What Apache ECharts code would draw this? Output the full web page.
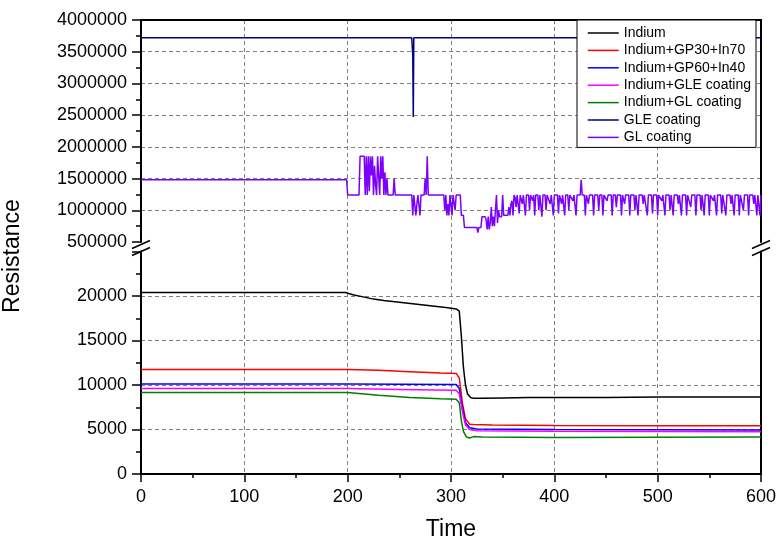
<!DOCTYPE html>
<html>
<head>
<meta charset="utf-8">
<script src="https://cdn.jsdelivr.net/npm/echarts@6/dist/echarts.min.js"></script>
<style>html,body{margin:0;padding:0;background:#fff}#c{width:784px;height:559px}</style>
</head>
<body>
<div id="c"></div>
<script>
var seriesNames = ['Indium','Indium+GP30+In70','Indium+GP60+In40','Indium+GLE coating','Indium+GL coating','GLE coating','GL coating'];
var seriesColors = ['#000000','#ff0000','#0000ff','#ff00ff','#008000','#000080','#7b00ff'];
var xTicks = [0,100,200,300,400,500,600];

var indium = [[0,20400],[50,20400],[100,20400],[150,20400],[198,20400],[205,20150],[215,19900],[225,19650],[235,19500],[250,19300],[265,19100],[280,18900],[295,18700],[305,18550],[308,18300],[310,15500],[312,12000],[314,10000],[316,9000],[319,8600],[322,8500],[330,8500],[350,8550],[375,8600],[400,8600],[450,8600],[500,8650],[550,8650],[600,8650]];
var gp30 = [[0,11750],[200,11750],[230,11650],[260,11500],[290,11350],[305,11300],[308,10800],[311,8000],[314,6200],[318,5600],[322,5550],[340,5500],[400,5450],[500,5420],[600,5420]];
var gp60 = [[0,10100],[200,10100],[305,10050],[308,9600],[311,7500],[314,5800],[318,5200],[325,5050],[400,5000],[600,4950]];
var inGle = [[0,9600],[200,9600],[250,9500],[305,9400],[308,9000],[311,7000],[314,5500],[318,5000],[325,4850],[400,4800],[600,4750]];
var inGl = [[0,9150],[200,9150],[230,8850],[260,8600],[290,8450],[305,8400],[308,8000],[310,6000],[312,4800],[315,4150],[318,4050],[322,4200],[330,4150],[400,4100],[600,4150]];
var gle = [[0,3720000],[262,3720000],[263,3450000],[263.5,2470000],[264,3720000],[600,3720000]];
var gl = [[0,1480000],[199,1480000],[200,1240000],[211,1240000],[212,1850000],[216,1850000],[217,1240000],[218,1850000],[219,1240000],[220,1850000],[221,1300000],[222,1850000],[223,1550000],[224,1850000],[225,1240000],[226,1700000],[227,1400000],[228,1240000],[229,1850000],[230,1850000],[231,1240000],[232,1850000],[233,1500000],[234,1850000],[235,1240000],[236,1600000],[237,1240000],[238,1500000],[239,1240000],[244,1240000],[245,1500000],[246,1240000],[262,1240000],[263,920000],[264,1240000],[265,1240000],[266,920000],[267,1100000],[268,1240000],[270,920000],[271,1240000],[274,1240000],[275,1500000],[276,1240000],[277,1850000],[278,1240000],[293,1240000],[294,1000000],[295,1240000],[296,920000],[297,1100000],[298,920000],[299,1240000],[301,920000],[302,1240000],[303,1240000],[304,1000000],[305,1240000],[309,1240000],[310,920000],[312,920000],[313,730000],[315,730000],[316,760000],[318,730000],[325,730000],[326,650000],[327,730000],[329,730000],[330,900000],[333,900000],[334,850000],[335,700000],[336,900000],[337,700000],[338,800000],[339,1050000],[340,750000],[341,900000],[342,750000],[343,1000000],[344,1240000],[345,800000],[346,1000000],[347,900000],[349,900000],[350,1240000],[351,920000],[355,920000],[356,1050000],[357,920000],[358,1100000],[359,1150000],[360,920000],[361,1240000],[362,1200000],[363,1050000],[364,1240000],[365,1240000],[366,950000],[367,1240000],[368,1240000],[369,1100000],[370,1240000],[372,920000],[373,1240000],[375,1240000],[376,1000000],[377,1240000],[379,1150000],[380,1240000],[381,920000],[382,1240000],[384,1240000],[385,1000000],[386,1240000],[388,900000],[389,1240000],[391,1240000],[392,1000000],[393,1240000],[396,1100000],[397,1240000],[399,920000],[400,1240000],[403,1240000],[404,950000],[405,1240000],[407,1100000],[408,1240000],[410,920000],[411,1240000],[413,1240000],[414,1000000],[415,1240000],[418,1150000],[419,1240000],[421,920000],[422,1240000],[425,1240000],[426,1480000],[427,1240000],[429,1240000],[430,920000],[431,1240000],[433,1100000],[434,1240000],[437,1240000],[438,920000],[439,1240000],[442,1240000],[443,1000000],[444,1240000],[446,1240000],[447,920000],[448,1240000],[451,1150000],[452,1240000],[455,1240000],[456,920000],[457,1240000],[459,1240000],[460,1050000],[461,1240000],[464,1240000],[465,920000],[466,1240000],[468,1100000],[469,1240000],[472,1240000],[473,920000],[474,1240000],[477,1240000],[478,1000000],[479,1240000],[481,920000],[482,1240000],[485,1240000],[486,1100000],[487,1240000],[490,920000],[491,1240000],[494,1240000],[495,950000],[496,1240000],[499,1240000],[500,920000],[501,1240000],[504,1150000],[505,1240000],[507,920000],[508,1240000],[511,1240000],[512,1000000],[513,1240000],[515,920000],[516,1240000],[519,1240000],[520,1100000],[521,1240000],[523,920000],[524,1240000],[527,1240000],[528,920000],[529,1240000],[532,1050000],[533,1240000],[536,1240000],[537,920000],[538,1240000],[541,1240000],[542,1000000],[543,1240000],[545,920000],[546,1240000],[549,1240000],[550,920000],[551,1240000],[554,1150000],[555,1240000],[557,920000],[558,1240000],[561,1240000],[562,950000],[563,1240000],[566,920000],[567,1240000],[570,1240000],[571,1100000],[572,1240000],[574,920000],[575,1240000],[578,1240000],[579,920000],[580,1240000],[583,1000000],[584,1240000],[587,1240000],[588,920000],[589,1240000],[592,1240000],[593,1100000],[594,1240000],[596,920000],[597,1240000],[599,920000],[600,1240000]];

var chart = echarts.init(document.getElementById('c'), null, {renderer: 'canvas'});
var FONT = 'Liberation Sans, Arial, sans-serif';
var dashed = {show: true, lineStyle: {color: '#808080', type: [4, 3], width: 1}, showMinLine: false, showMaxLine: false};
var blackLine = {show: true, onZero: false, lineStyle: {color: '#000', width: 2}};

function lineSeries(i, data, axisIdx) {
  return {
    name: seriesNames[i], type: 'line', data: data, xAxisIndex: axisIdx, yAxisIndex: axisIdx === 1 ? 1 : 3,
    showSymbol: false, symbol: 'none', animation: false, z: 3,
    lineStyle: {color: seriesColors[i], width: 1.5}, itemStyle: {color: seriesColors[i]}
  };
}

var option = {
  animation: false,
  backgroundColor: '#fff',
  grid: [
    {left: 141, right: 23, top: 20, bottom: 85},
    {left: 141, right: 23, top: 20, height: 222},
    {left: 141, right: 23, top: 251.5, bottom: 85}
  ],
  xAxis: [
    {gridIndex: 0, type: 'value', min: 0, max: 600, interval: 100, axisLine: {show: false}, axisTick: {show: false}, axisLabel: {show: false}, splitLine: dashed},
    {gridIndex: 1, type: 'value', position: 'top', min: 0, max: 600, interval: 100, axisLine: blackLine, axisTick: {show: false}, axisLabel: {show: false}, splitLine: {show: false}},
    {gridIndex: 2, type: 'value', position: 'bottom', min: 0, max: 600, interval: 100,
      axisLine: blackLine,
      axisTick: {show: true, inside: false, length: 8, lineStyle: {color: '#000', width: 1.5}},
      minorTick: {show: true, splitNumber: 2, length: 4, lineStyle: {color: '#000', width: 1.5}},
      axisLabel: {color: '#000', fontSize: 18, fontFamily: FONT, margin: 14, customValues: xTicks},
      splitLine: {show: false},
      name: 'Time', nameLocation: 'middle', nameGap: 44, nameTextStyle: {color: '#000', fontSize: 23, fontFamily: FONT}}
  ],
  yAxis: [
    {gridIndex: 0, type: 'value', min: 0, max: 1, show: false},
    {gridIndex: 1, type: 'value', min: 500000, max: 4000000, interval: 500000,
      axisLine: blackLine,
      axisTick: {show: true, inside: false, length: 9, lineStyle: {color: '#000', width: 1.5}},
      minorTick: {show: true, splitNumber: 2, length: 5, lineStyle: {color: '#000', width: 1.5}},
      axisLabel: {color: '#000', fontSize: 18, fontFamily: FONT, margin: 14, formatter: function (v) { return String(v); }},
      splitLine: dashed},
    {gridIndex: 1, type: 'value', position: 'right', min: 500000, max: 4000000, axisLine: blackLine, axisTick: {show: false}, axisLabel: {show: false}, splitLine: {show: false}},
    {gridIndex: 2, type: 'value', min: 0, max: 25000, interval: 5000,
      axisLine: blackLine,
      axisTick: {show: true, inside: false, length: 9, lineStyle: {color: '#000', width: 1.5}},
      minorTick: {show: true, splitNumber: 2, length: 5, lineStyle: {color: '#000', width: 1.5}},
      axisLabel: {color: '#000', fontSize: 18, fontFamily: FONT, margin: 14, formatter: function (v) { return v >= 25000 ? '' : String(v); }},
      splitLine: dashed},
    {gridIndex: 2, type: 'value', position: 'right', min: 0, max: 25000, axisLine: blackLine, axisTick: {show: false}, axisLabel: {show: false}, splitLine: {show: false}}
  ],
  legend: {
    orient: 'vertical', left: 577, top: 20,
    padding: [6, 5, 3, 10], itemGap: 3.4, itemWidth: 31, itemHeight: 14,
    itemStyle: {opacity: 0},
    lineStyle: {width: 1.5},
    backgroundColor: '#fff', borderColor: '#000', borderWidth: 1, borderRadius: 0,
    textStyle: {color: '#000', fontSize: 14, fontFamily: FONT, lineHeight: 14},
    data: seriesNames, z: 10
  },
  graphic: [
    {type: 'text', rotation: Math.PI / 2, x: 1, y: 256, style: {text: 'Resistance', fill: '#000', font: '23px ' + FONT, align: 'center', verticalAlign: 'top'}},
    {type: 'line', shape: {x1: 132, y1: 248.5, x2: 150, y2: 240.5}, style: {stroke: '#000', lineWidth: 1.5}, z: 20},
    {type: 'line', shape: {x1: 132, y1: 255.5, x2: 150, y2: 247.5}, style: {stroke: '#000', lineWidth: 1.5}, z: 20},
    {type: 'line', shape: {x1: 752, y1: 248.5, x2: 770, y2: 240.5}, style: {stroke: '#000', lineWidth: 1.5}, z: 20},
    {type: 'line', shape: {x1: 752, y1: 255.5, x2: 770, y2: 247.5}, style: {stroke: '#000', lineWidth: 1.5}, z: 20}
  ],
  series: [
    lineSeries(0, indium, 2),
    lineSeries(1, gp30, 2),
    lineSeries(2, gp60, 2),
    lineSeries(3, inGle, 2),
    lineSeries(4, inGl, 2),
    lineSeries(5, gle, 1),
    lineSeries(6, gl, 1)
  ]
};
chart.setOption(option);
</script>
</body>
</html>
